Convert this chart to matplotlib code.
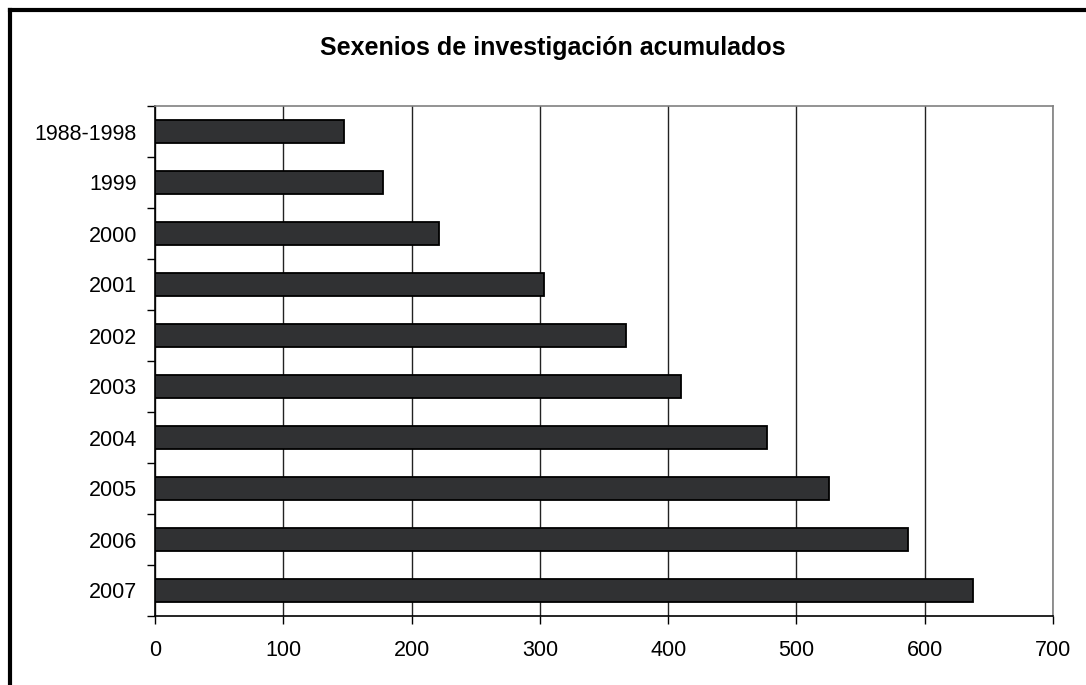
import matplotlib.pyplot as plt
from matplotlib.lines import Line2D

# datos
categorias = ["1988-1998", "1999", "2000", "2001", "2002",
              "2003", "2004", "2005", "2006", "2007"]
sexenios = [147, 178, 221, 303, 367, 410, 477, 525, 587, 638]
xticks = [0, 100, 200, 300, 400, 500, 600, 700]

plt.rcParams['font.family'] = ['Liberation Sans', 'DejaVu Sans']

W, H = 1086, 685
fig = plt.figure(figsize=(W / 100, H / 100), dpi=100)
ax = fig.add_axes([155 / W, 1 - 616 / H, (1053 - 155) / W, (616 - 106) / H])

y = list(range(len(categorias)))
ax.barh(y, sexenios, height=0.44, color='#303133', edgecolor='black',
        linewidth=1.3, zorder=3)

# lineas de cuadricula verticales
ax.set_xlim(0, 700)
ax.set_xticks(xticks)
ax.set_xticklabels([str(t) for t in xticks], fontsize=15.5)
ax.grid(axis='x', color='#222222', linewidth=1, zorder=0)
ax.tick_params(axis='x', direction='out', length=6, width=1, pad=11)

ax.set_ylim(len(categorias) - 0.5, -0.5)
ax.set_yticks(y)
ax.set_yticklabels(categorias, fontsize=15.5)
ax.set_yticks([i - 0.5 for i in range(len(categorias) + 1)], minor=True)
ax.tick_params(axis='y', which='major', length=0, pad=13)
ax.tick_params(axis='y', which='minor', direction='out', length=6, width=1)

ax.spines['top'].set_color('#808080')
ax.spines['right'].set_color('#808080')
ax.spines['left'].set_color('black')
ax.spines['bottom'].set_color('black')
for s in ax.spines.values():
    s.set_linewidth(1.2)

fig.text(553 / W, 1 - 48 / H, "Sexenios de investigación acumulados",
         ha='center', va='center', fontsize=18, fontweight='bold')

# marco exterior (solo arriba e izquierda visibles)
fig.add_artist(Line2D([10 / W, 1], [1 - 10 / H, 1 - 10 / H], color='black', lw=3))
fig.add_artist(Line2D([10 / W, 10 / W], [0, 1 - 10 / H], color='black', lw=3))

fig.savefig("out.png", dpi=100)
